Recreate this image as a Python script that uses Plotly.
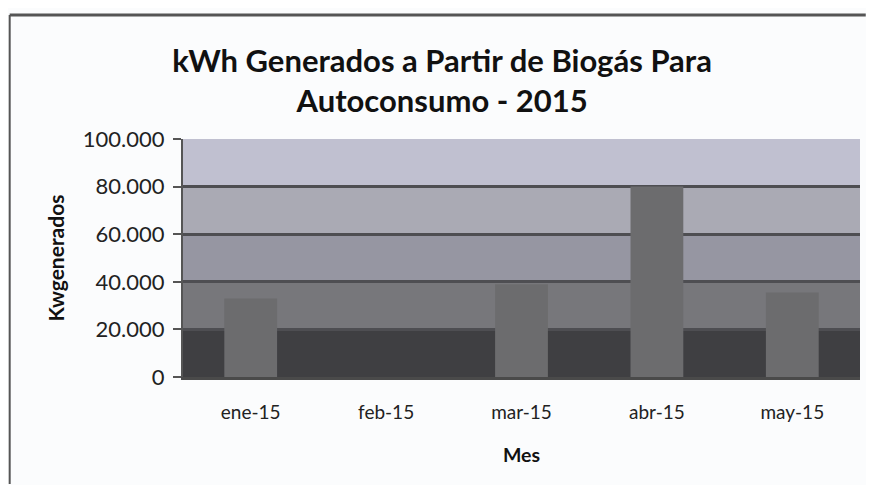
import plotly.graph_objects as go

months = ["ene-15", "feb-15", "mar-15", "abr-15", "may-15"]
kwh = [33000, 0, 39000, 80000, 35500]
y_ticks = [0, 20000, 40000, 60000, 80000, 100000]

title_text = "kWh Generados a Partir de Biogás Para<br>Autoconsumo - 2015"

# background bands (plot-area gradient, as posterised in the scan)
bands = [(0, 20500, "#3f3f42"), (20500, 40500, "#77777b"), (40500, 60500, "#9696a2"),
         (60500, 80500, "#aaaab4"), (80500, 100000, "#c0c0d0")]

fig = go.Figure()
fig.add_trace(go.Bar(x=months, y=kwh, marker=dict(color="#6c6c6e", line=dict(width=0)),
                     width=0.39, hoverinfo="x+y"))

shapes = []
for y0, y1, c in bands:
    shapes.append(dict(type="rect", xref="paper", yref="y", x0=0, x1=1, y0=y0, y1=y1,
                       fillcolor=c, line=dict(width=0), layer="below"))
# chart-area frame (top and left edges visible in the scan)
shapes.append(dict(type="line", xref="paper", yref="paper", x0=-0.256, x1=1.0085,
                   y0=1.521, y1=1.521, line=dict(color="#555555", width=3)))
shapes.append(dict(type="line", xref="paper", yref="paper", x0=-0.256, x1=-0.256,
                   y0=1.521, y1=-0.45, line=dict(color="#555555", width=2)))

fig.update_layout(
    width=858, height=477,
    margin=dict(l=175, r=6, t=131, b=108),
    paper_bgcolor="#fbfcfd",
    plot_bgcolor="#b0b0bc",
    separators=",.",
    showlegend=False,
    bargap=0.6,
    shapes=shapes,
    title=dict(text=title_text, x=0.506, xanchor="center", y=0.866, yanchor="top",
               font=dict(family="Lato", size=31, color="#111111", weight="bold")),
    font=dict(family="Lato", color="#222222"),
)
fig.update_xaxes(
    type="category", showgrid=False, showline=True, linecolor="#4a4a4a", linewidth=3,
    ticks="", tickfont=dict(size=19, color="#222222"), ticklabelstandoff=16,
    title=dict(text="Mes", font=dict(size=19.5, color="#111111", weight="bold"), standoff=27),
)
fig.update_yaxes(
    range=[0, 100000], tickvals=y_ticks, tickformat=",d",
    showgrid=True, gridcolor="#4e4e52", gridwidth=3,
    showline=True, linecolor="#555555", linewidth=2,
    ticks="outside", ticklen=8, tickcolor="#555555", tickwidth=2,
    tickfont=dict(size=22, color="#222222"), ticklabelstandoff=4, zeroline=False,
    title=dict(text="Kwgenerados", font=dict(size=21, color="#111111", weight="bold"), standoff=12),
)

fig.write_html("out.html")
